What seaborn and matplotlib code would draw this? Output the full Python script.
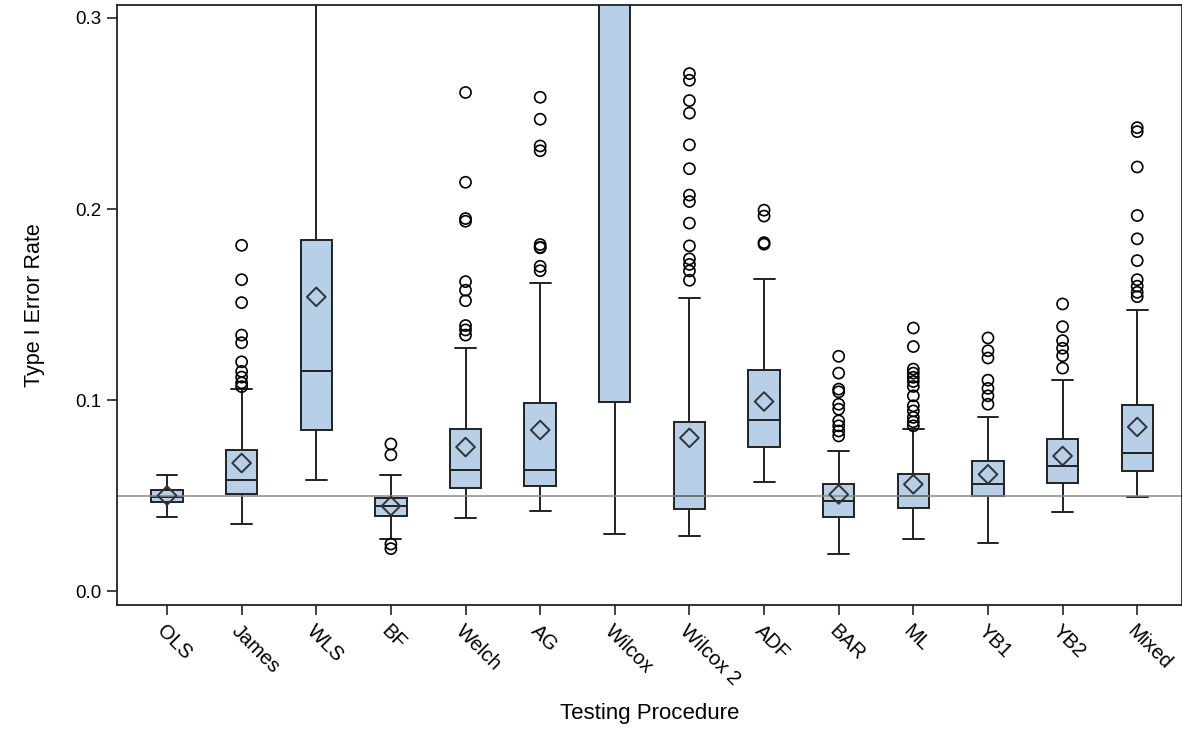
import numpy as np
import pandas as pd
import matplotlib
matplotlib.use("Agg")
import matplotlib.pyplot as plt
import seaborn as sns

# Testing procedures on the x axis
procedures = ["OLS", "James", "WLS", "BF", "Welch", "AG", "Wilcox",
              "Wilcox 2", "ADF", "BAR", "ML", "YB1", "YB2", "Mixed"]

# Box summaries (Wilcox box and WLS whisker run past the top)
whisker_low = [0.039, 0.035, 0.058, 0.027, 0.038, 0.042, 0.030,
               0.029, 0.057, 0.0195, 0.0275, 0.025, 0.0416, 0.049]
q1 = [0.0466, 0.0508, 0.0843, 0.0393, 0.0542, 0.0548, 0.0988,
      0.0428, 0.0754, 0.0387, 0.0433, 0.0498, 0.0568, 0.0629]
median = [0.049, 0.058, 0.115, 0.0445, 0.0632, 0.0635, 0.40,
          0.0497, 0.0895, 0.0471, 0.0498, 0.0559, 0.0655, 0.0725]
q3 = [0.053, 0.0738, 0.184, 0.0486, 0.085, 0.0982, 0.55,
      0.0884, 0.1158, 0.0559, 0.0611, 0.0681, 0.0795, 0.0973]
whisker_high = [0.0607, 0.106, 0.40, 0.0609, 0.127, 0.1614, 0.70,
                0.1534, 0.1631, 0.0733, 0.0847, 0.0912, 0.1104, 0.1472]
means = [0.050, 0.067, 0.154, 0.0445, 0.0754, 0.0843, 0.45,
         0.0802, 0.0992, 0.0506, 0.0559, 0.0611, 0.0707, 0.0859]

# Outliers per procedure
out_james = [0.181, 0.163, 0.151, 0.134, 0.130, 0.120, 0.115, 0.112, 0.109, 0.107]
out_bf = [0.077, 0.0713, 0.0246, 0.0222]
out_welch = [0.261, 0.214, 0.195, 0.1936, 0.162, 0.1575, 0.152, 0.139, 0.1367, 0.134]
out_ag = [0.2585, 0.247, 0.233, 0.2305, 0.1814, 0.180, 0.1797, 0.170, 0.1677]
out_wilcox2 = [0.2709, 0.2674, 0.2568, 0.2502, 0.2336, 0.2211, 0.2073, 0.2039,
               0.1926, 0.1807, 0.1739, 0.171, 0.1676, 0.1627]
out_adf = [0.1994, 0.1963, 0.1824, 0.1816]
out_bar = [0.1229, 0.1141, 0.1057, 0.1043, 0.0978, 0.0952, 0.0891, 0.0865,
           0.0838, 0.0812]
out_ml = [0.1377, 0.128, 0.1162, 0.1141, 0.1119, 0.1097, 0.1071, 0.1022,
          0.097, 0.0943, 0.0909, 0.0886, 0.0865]
out_yb1 = [0.1325, 0.1258, 0.122, 0.1104, 0.1061, 0.1022, 0.0978]
out_yb2 = [0.1503, 0.1384, 0.1311, 0.1271, 0.1232, 0.1167]
out_mixed = [0.2426, 0.2405, 0.222, 0.1966, 0.1844, 0.173, 0.163, 0.1596,
             0.1564, 0.1541]

box_fill = "#b8cfe8"
edge = "#222222"

# five values per group -> quartiles land exactly on the read values
box_df = pd.DataFrame({
    "procedure": np.repeat(procedures, 5),
    "rate": np.column_stack([whisker_low, q1, median, q3, whisker_high]).ravel(),
})

outlier_groups = [("James", out_james), ("BF", out_bf), ("Welch", out_welch),
                  ("AG", out_ag), ("Wilcox 2", out_wilcox2), ("ADF", out_adf),
                  ("BAR", out_bar), ("ML", out_ml), ("YB1", out_yb1),
                  ("YB2", out_yb2), ("Mixed", out_mixed)]
out_df = pd.DataFrame(
    [(name, v) for name, vals in outlier_groups for v in vals],
    columns=["procedure", "rate"],
)

sns.set_theme(style="ticks")
plt.rcParams["font.family"] = ["Liberation Sans", "DejaVu Sans"]
plt.rcParams["text.color"] = "black"
plt.rcParams["axes.labelcolor"] = "black"
plt.rcParams["xtick.color"] = "black"
plt.rcParams["ytick.color"] = "black"

fig = plt.figure(figsize=(11.82, 7.34), dpi=100)
ax = fig.add_axes([117 / 1182, 129 / 734, 1065 / 1182, 600 / 734])

sns.boxplot(data=box_df, x="procedure", y="rate", order=procedures,
            whis=(0, 100), showfliers=False, width=0.42, color=box_fill,
            saturation=1, linecolor=edge, linewidth=1.4, capwidths=0.28,
            ax=ax)

ax.axhline(0.05, color="#8a8a8a", lw=1.1, zorder=2.5)

# open circles for outliers, open diamonds for means
n0 = len(ax.collections)
sns.stripplot(data=out_df, x="procedure", y="rate", order=procedures,
              jitter=False, marker="o", size=8, color="black",
              edgecolor="black", linewidth=1.2, zorder=4, ax=ax)
for coll in ax.collections[n0:]:
    coll.set_facecolor("none")
    coll.set_edgecolor("black")

n1 = len(ax.collections)
sns.stripplot(x=procedures, y=means, order=procedures, jitter=False,
              marker="D", size=9.5, color="#333333", edgecolor="#333333",
              linewidth=1.4, zorder=4, ax=ax)
for coll in ax.collections[n1:]:
    coll.set_facecolor("none")
    coll.set_edgecolor("#333333")

ax.set_xlim(-0.67, 13.6)
ax.set_ylim(-0.0073, 0.3068)
ax.set_yticks([0.0, 0.1, 0.2, 0.3])
ax.set_yticklabels(["0.0", "0.1", "0.2", "0.3"])

for side in ["left", "right", "top", "bottom"]:
    ax.spines[side].set_color("#222222")
    ax.spines[side].set_linewidth(1.3)

ax.tick_params(axis="both", length=7, width=1.2, color="#222222")
ax.tick_params(axis="y", labelsize=13.5, pad=4)
ax.tick_params(axis="x", labelsize=14.5, labelrotation=-45, pad=5)
plt.setp(ax.get_xticklabels(), ha="left", va="top", rotation_mode="anchor")

ax.set_xlabel("Testing Procedure", fontsize=16, labelpad=10)
ax.set_ylabel("Type I Error Rate", fontsize=15.5, labelpad=22)

fig.savefig("out.png", dpi=100)
